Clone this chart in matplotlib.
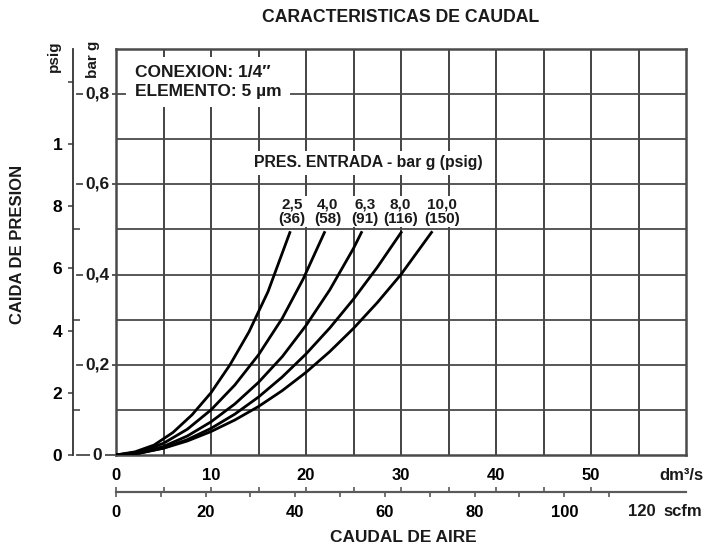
import matplotlib
matplotlib.use('Agg')
import matplotlib.pyplot as plt
import matplotlib.transforms as mtransforms
import numpy as np

plt.rcParams['font.family'] = ['Liberation Sans', 'DejaVu Sans']
plt.rcParams['font.weight'] = 'bold'
plt.rcParams['text.color'] = '#1a1a1a'

# caudal (dm3/s) y caida de presion (bar)
q_25 = [0, 2, 4, 6, 8, 10, 12, 14, 16, 18.35]
dp_25 = [0, 0.007, 0.022, 0.05, 0.089, 0.138, 0.2, 0.273, 0.362, 0.496]
q_40 = [0, 2.5, 5, 7.5, 10, 12.5, 15, 17.5, 19.7, 22]
dp_40 = [0, 0.007, 0.026, 0.057, 0.1, 0.155, 0.222, 0.303, 0.39, 0.496]
q_63 = [0, 2.5, 5, 7.5, 10, 12.5, 15, 17.5, 20, 22.5, 25, 25.9]
dp_63 = [0, 0.005, 0.019, 0.042, 0.0735, 0.113, 0.161, 0.218, 0.287, 0.366, 0.458, 0.496]
q_80 = [0, 2.5, 5, 7.5, 10, 12.5, 15, 17.5, 20, 22.5, 25, 27.5, 30.1]
dp_80 = [0, 0.004, 0.0155, 0.034, 0.059, 0.0905, 0.1285, 0.173, 0.224, 0.2815, 0.3455, 0.416, 0.496]
q_100 = [0, 2.5, 5, 7.5, 10, 12.5, 15, 17.5, 20, 22.5, 25, 27.5, 30, 33.3]
dp_100 = [0, 0.0045, 0.015, 0.031, 0.052, 0.0775, 0.1075, 0.1427, 0.1832, 0.2292, 0.2807,
          0.3377, 0.4002, 0.496]

curves_q = [q_25, q_40, q_63, q_80, q_100]
curves_dp = [dp_25, dp_40, dp_63, dp_80, dp_100]
pres_bar = ['2,5', '4,0', '6,3', '8,0', '10,0']
pres_psig = ['36', '58', '91', '116', '150']

dm_ticks = [0, 10, 20, 30, 40, 50]
scfm_ticks = [0, 20, 40, 60, 80, 100]
scfm_minor = [10, 30, 50, 70, 90, 110]
bar_ticks = [0, 0.2, 0.4, 0.6, 0.8]
bar_labels = ['0', '0,2', '0,4', '0,6', '0,8']
bar_odd = [0.1, 0.3, 0.5]
psig_ticks = [0, 2, 4, 6, 8, 10, 12]
psig_labels = ['0', '2', '4', '6', '8', '1', '']

BAR2PSI = 14.5038
SCFM2DM = 0.4719

W, H = 706, 550
fig = plt.figure(figsize=(W / 100, H / 100), dpi=100)
ax = fig.add_axes([116 / W, 95 / H, 570 / W, 406 / H])

def px(x, y):
    return x / W, 1 - y / H

ax.set_xlim(0, 60)
ax.set_ylim(0, 0.9)

# rejilla
ax.set_xticks(dm_ticks)
ax.set_xticklabels([str(t) for t in dm_ticks], fontsize=12)
ax.set_yticks(np.arange(0.1, 0.85, 0.1))
ax.set_yticklabels([])
ax.tick_params(axis='x', which='both', length=0, pad=9)
ax.tick_params(axis='y', length=0)
for x in np.arange(5, 60, 5):
    ax.axvline(x, color='#111111', lw=1.1, zorder=1)
for y in np.arange(0.1, 0.85, 0.1):
    ax.axhline(y, color='#4a4a4a', lw=1.3, zorder=1)
for s in ax.spines.values():
    s.set_color('#4a4a4a')
    s.set_linewidth(1.8)

# curvas
for q, dp in zip(curves_q, curves_dp):
    ax.plot(q, dp, color='black', lw=2.0, zorder=3, solid_capstyle='butt',
            solid_joinstyle='round')

label_dx = [1, 2, 2, -1, 7]
for q, dp, b, p, dx in zip(curves_q, curves_dp, pres_bar, pres_psig, label_dx):
    ax.annotate(f'{b}\n({p})', xy=(q[-1], dp[-1]), xytext=(dx, 4),
                textcoords='offset points', ha='center', va='bottom',
                fontsize=11, linespacing=1.05, zorder=4,
                bbox=dict(boxstyle='square,pad=0.1', fc='white', ec='none'))

ax.text((368 - 116) / 570, (455 - 163) / 406, 'PRES. ENTRADA - bar g (psig)',
        transform=ax.transAxes, ha='center', va='center', fontsize=11.4, zorder=4,
        bbox=dict(boxstyle='square,pad=0.3', fc='white', ec='none'))

ax.text(19 / 570, (455 - 82) / 406, 'CONEXION: 1/4\u2033\nELEMENTO: 5 \u00b5m',
        transform=ax.transAxes, ha='left', va='center', fontsize=12.5,
        linespacing=1.3, zorder=4,
        bbox=dict(boxstyle='square,pad=0.5', fc='white', ec='none'))

# escala bar g
trans = mtransforms.blended_transform_factory(ax.transAxes, ax.transData)
for v, lab in zip(bar_ticks, bar_labels):
    ax.plot([-0.0684, 0], [v, v], color='#4a4a4a', lw=1.3, transform=trans,
            clip_on=False)
    ax.text(-0.0325, v, lab, transform=trans, ha='center', va='center',
            fontsize=12.5, bbox=dict(boxstyle='square,pad=0.15', fc='white', ec='none'))

# escala psig
sec_psi = ax.secondary_yaxis(-0.0754, functions=(lambda b: b * BAR2PSI,
                                                   lambda p: p / BAR2PSI))
sec_psi.set_yticks(psig_ticks)
sec_psi.set_yticklabels(psig_labels, fontsize=12.5)
sec_psi.set_yticks([v * BAR2PSI for v in bar_odd], minor=True)
sec_psi.tick_params(which='major', direction='out', length=3.6, width=1.2,
                    color='#4a4a4a', pad=4)
sec_psi.tick_params(which='minor', direction='in', length=5, width=1.2,
                    color='#4a4a4a')
sec_psi.spines['left'].set_color('#333333')
sec_psi.spines['left'].set_linewidth(1.3)

# escala scfm
loc = (455 - 492) / 406
sec_dm = ax.secondary_xaxis(loc, functions=(lambda x: x, lambda x: x))
sec_dm.set_xticks(np.arange(0, 55, 5))
sec_dm.set_xticklabels([])
sec_dm.tick_params(direction='in', length=3.6, width=1.2, color='#5a5a5a')
sec_dm.spines['bottom'].set_color('#5a5a5a')
sec_dm.spines['bottom'].set_linewidth(1.5)

sec_sc = ax.secondary_xaxis(loc, functions=(lambda d: d / SCFM2DM,
                                            lambda s: s * SCFM2DM))
sec_sc.set_xticks(scfm_ticks)
sec_sc.set_xticklabels([str(t) for t in scfm_ticks], fontsize=12)
sec_sc.set_xticks(scfm_minor, minor=True)
sec_sc.tick_params(which='both', direction='out', length=3.6, width=1.2,
                   color='#5a5a5a', pad=6)
sec_sc.spines['bottom'].set_color('#5a5a5a')
sec_sc.spines['bottom'].set_linewidth(1.5)

fig.text(*px(642, 512), '120', ha='center', va='center', fontsize=12)
fig.text(*px(663, 512), 'scfm', ha='left', va='center', fontsize=12)
fig.text(*px(659, 475), 'dm\u00b3/s', ha='left', va='center', fontsize=12)

# titulos
fig.text(*px(401, 17), 'CARACTERISTICAS DE CAUDAL', ha='center', va='center',
         fontsize=12.7)
fig.text(*px(403, 538), 'CAUDAL DE AIRE', ha='center', va='center', fontsize=12.4)
fig.text(*px(18, 244), 'CAIDA DE PRESION', ha='center', va='center',
         rotation=90, fontsize=12)
fig.text(*px(54, 56), 'psig', ha='center', va='center', rotation=90, fontsize=11)
fig.text(*px(93, 59), 'bar g', ha='center', va='center', rotation=90, fontsize=11)

fig.savefig('out.png', dpi=100)
